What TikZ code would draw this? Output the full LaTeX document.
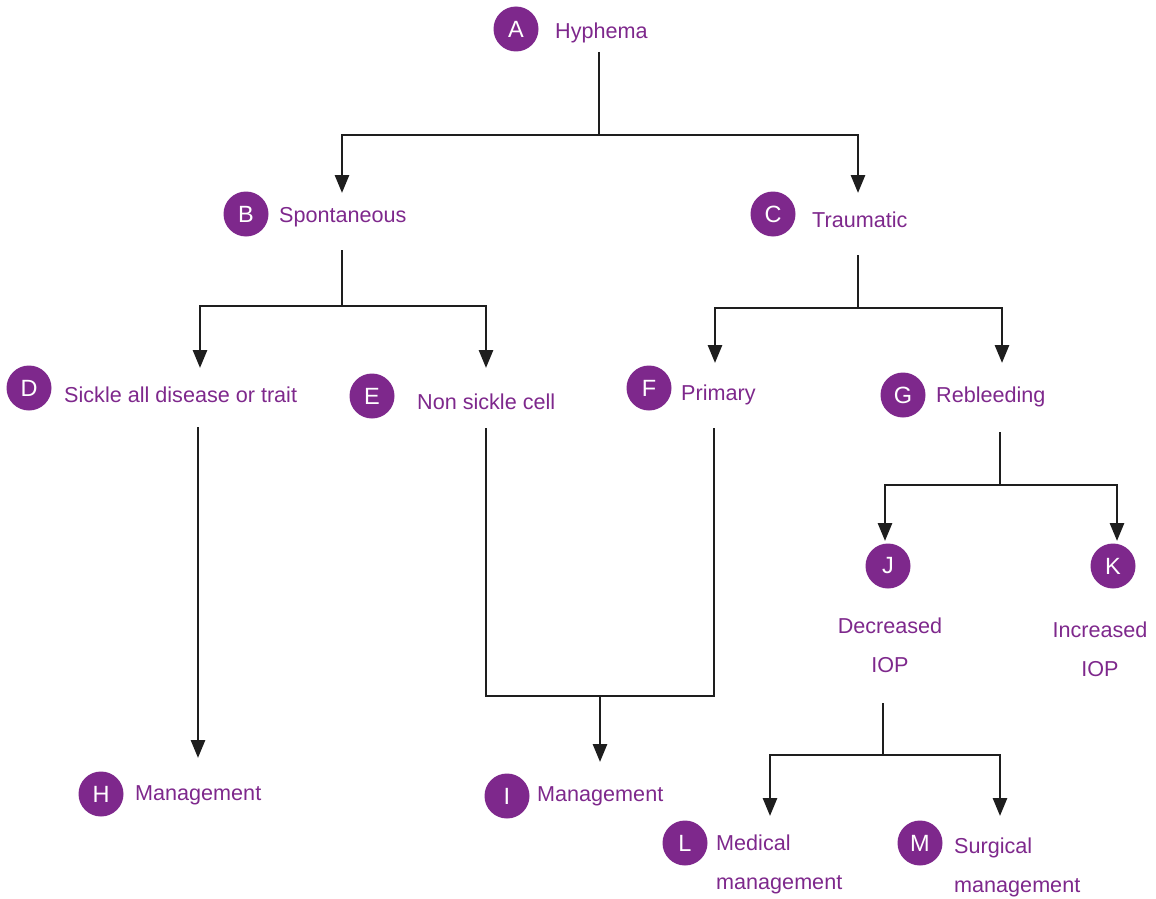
\documentclass[tikz,border=0pt]{standalone}
\usepackage{fontspec}
\setmainfont{Liberation Sans}
\usetikzlibrary{arrows.meta}
\definecolor{pur}{RGB}{126,40,140}
\definecolor{ln}{RGB}{30,30,30}
\tikzset{
  badge/.style={circle,fill=pur,minimum size=45pt,inner sep=0pt,text=white,font=\fontsize{23.5}{25}\selectfont},
  lbl/.style={anchor=west,text=pur,inner sep=0pt,font=\fontsize{21.6}{39}\selectfont},
  lblc/.style={anchor=center,text=pur,inner sep=0pt,align=center,font=\fontsize{21.6}{39}\selectfont},
  conn/.style={draw=ln,line width=2.8pt,line join=miter},
  arr/.style={conn,-{Triangle[length=18pt,width=14pt]}}
}
\begin{document}
\begin{tikzpicture}[x=1pt,y=-1pt]
\useasboundingbox (0,0) rectangle (1156,899);
% nodes
\node[badge] (cA) at (516,29) {A};
\node[lbl] (tA) at (555,33) {Hyphema};
\node[badge] (cB) at (246,214) {B};
\node[lbl] (tB) at (279,217) {Spontaneous};
\node[badge] (cC) at (773,214) {C};
\node[lbl] (tC) at (812,220) {Traumatic};
\node[badge] (cD) at (29,388) {D};
\node[lbl] (tD) at (64,395) {Sickle all disease or trait};
\node[badge] (cE) at (372,396) {E};
\node[lbl] (tE) at (417,402) {Non sickle cell};
\node[badge] (cF) at (649,388) {F};
\node[lbl] (tF) at (681,395) {Primary};
\node[badge] (cG) at (903,395) {G};
\node[lbl] (tG) at (936,397) {Rebleeding};
\node[badge] (cJ) at (888,566) {J};
\node[lblc] (tJ) at (890,645) {Decreased\\IOP};
\node[badge] (cK) at (1113,566) {K};
\node[lblc] (tK) at (1100,649) {Increased\\IOP};
\node[badge] (cH) at (101,794) {H};
\node[lbl] (tH) at (135,795) {Management};
\node[badge] (cI) at (507,796) {I};
\node[lbl] (tI) at (537,796) {Management};
\node[badge] (cL) at (685,843) {L};
\node[lbl,align=left] (tL) at (716,864) {Medical\\management};
\node[badge] (cM) at (920,843) {M};
\node[lbl,align=left] (tM) at (954,867) {Surgical\\management};
% coordinates
\coordinate (sA) at (599,52);
\coordinate (jA) at (599,135);
\coordinate (eB) at (342,193);
\coordinate (eC) at (858,193);
\coordinate (sB) at (342,250);
\coordinate (jB) at (342,306);
\coordinate (eD) at (200,368);
\coordinate (eE) at (486,368);
\coordinate (sC) at (858,255);
\coordinate (jC) at (858,308);
\coordinate (eF) at (715,363);
\coordinate (eG) at (1002,363);
\coordinate (sG) at (1000,432);
\coordinate (jG) at (1000,485);
\coordinate (eJ) at (885,541);
\coordinate (eK) at (1117,541);
\coordinate (sD) at (198,427);
\coordinate (eH) at (198,758);
\coordinate (sE) at (486,428);
\coordinate (sF) at (714,428);
\coordinate (jEF) at (600,696);
\coordinate (eI) at (600,762);
\coordinate (sJ) at (883,703);
\coordinate (jJ) at (883,755);
\coordinate (eL) at (770,816);
\coordinate (eM) at (1000,816);
% connectors
\draw[conn] (sA) -- (jA);
\draw[arr] (jA) -| (eB);
\draw[arr] (jA) -| (eC);
\draw[conn] (sB) -- (jB);
\draw[arr] (jB) -| (eD);
\draw[arr] (jB) -| (eE);
\draw[conn] (sC) -- (jC);
\draw[arr] (jC) -| (eF);
\draw[arr] (jC) -| (eG);
\draw[conn] (sG) -- (jG);
\draw[arr] (jG) -| (eJ);
\draw[arr] (jG) -| (eK);
\draw[arr] (sD) -- (eH);
\draw[conn] (sE) |- (jEF);
\draw[conn] (sF) |- (jEF);
\draw[arr] (jEF) -- (eI);
\draw[conn] (sJ) -- (jJ);
\draw[arr] (jJ) -| (eL);
\draw[arr] (jJ) -| (eM);
\end{tikzpicture}
\end{document}
